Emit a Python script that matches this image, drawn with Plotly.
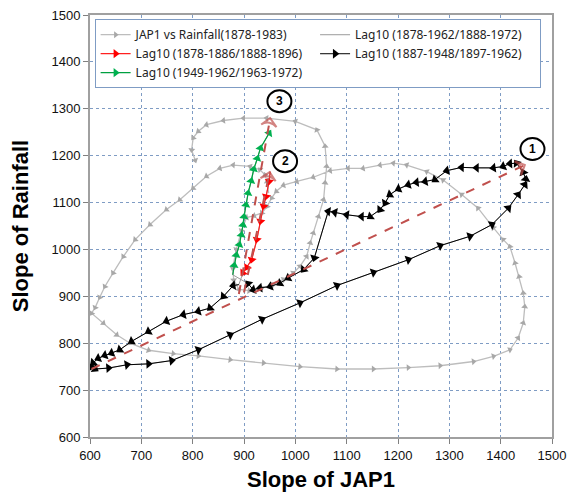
import plotly.graph_objects as go

# ---- data ----
jap1_x = [948, 945, 941, 931, 912, 879, 853, 827, 801, 775, 749, 717, 688, 665, 645, 629, 619, 610, 603,
          626, 652, 678, 714, 762, 811, 873, 938, 1009, 1081, 1152, 1220, 1282, 1347, 1386, 1418, 1434,
          1444, 1447, 1444, 1436, 1428, 1418, 1405, 1386, 1356, 1324, 1288, 1256, 1217, 1191, 1165, 1132,
          1103, 1068, 1035, 1003, 977, 963, 954, 945, 935, 920, 905, 895, 885, 878, 880, 890, 910, 935,
          957, 977, 996, 1009, 1022, 1029, 1035, 1045, 1055, 1058, 1061, 1058, 1042, 1000, 944, 899, 860,
          827, 811, 801, 798, 805]
jap1_y = [1120, 1145, 1159, 1170, 1177, 1180, 1173, 1156, 1131, 1106, 1085, 1053, 1021, 985, 950, 921, 898,
          876, 864, 843, 818, 800, 785, 778, 773, 765, 758, 750, 745, 745, 748, 752, 761, 772, 786, 811,
          843, 878, 907, 942, 971, 1006, 1021, 1046, 1088, 1117, 1148, 1166, 1180, 1184, 1180, 1173, 1173,
          1168, 1154, 1145, 1137, 1124, 1110, 1092, 1078, 1072, 1068, 1040, 1000, 960, 935, 915, 912, 918,
          925, 936, 950, 964, 985, 1014, 1035, 1070, 1106, 1142, 1177, 1220, 1255, 1273, 1280, 1280, 1275,
          1266, 1252, 1238, 1212, 1190]

red_x = [951, 949, 943, 938, 932, 925, 915, 906, 898]
red_y = [1166, 1145, 1113, 1092, 1060, 1021, 978, 962, 950]

black_x = [890, 879, 860, 834, 811, 782, 749, 714, 681, 658, 642, 629, 616, 606, 603, 610, 636, 672, 714,
           759, 811, 873, 935, 1009, 1081, 1152, 1220, 1282, 1340, 1383, 1415, 1434, 1447, 1449, 1444,
           1431, 1418, 1405, 1386, 1353, 1324, 1295, 1272, 1253, 1236, 1220, 1201, 1184, 1175, 1165, 1146,
           1129, 1100, 1077, 1064, 1037, 1016, 986, 970, 951, 931, 918, 908]
black_y = [925, 923, 900, 875, 868, 861, 847, 825, 804, 786, 779, 774, 768, 758, 750, 745, 747, 754, 756,
           763, 786, 818, 851, 886, 923, 951, 978, 1008, 1028, 1053, 1088, 1117, 1138, 1150, 1164, 1184,
           1183, 1177, 1174, 1174, 1175, 1168, 1149, 1145, 1143, 1138, 1129, 1117, 1099, 1085, 1070, 1070,
           1074, 1079, 1081, 982, 957, 939, 928, 921, 918, 914, 927]

green_x = [878, 881, 885, 891, 895, 898, 900, 904, 908, 914, 919, 926, 932, 949]
green_y = [946, 966, 988, 1010, 1031, 1052, 1070, 1095, 1120, 1146, 1171, 1194, 1216, 1248]

lag_all_x = red_x + black_x + green_x
lag_all_y = red_y + black_y + green_y

# dashed trend arrows: (tail, head)
arrow1_x = [603, 1447]
arrow1_y = [745, 1180]
arrow2_x = [900, 950]
arrow2_y = [908, 1165]
arrow3_x = [890, 951]
arrow3_y = [905, 1280]

labels = ["1", "2", "3"]
label_x = [1462, 980, 969]
label_y = [1214, 1188, 1316]

ticks = list(range(600, 1501, 100))

# ---- figure ----
fig = go.Figure()

fig.add_trace(go.Scatter(
    x=jap1_x, y=jap1_y, mode="lines+markers", name="JAP1 vs Rainfall(1878-1983)",
    line=dict(color="#BDBDBD", width=1.3),
    marker=dict(symbol="triangle-up", size=6, color="#A8A8A8", angleref="previous"),
))
fig.add_trace(go.Scatter(
    x=lag_all_x, y=lag_all_y, mode="lines", name="Lag10 (1878-1962/1888-1972)",
    line=dict(color="#9A9A9A", width=1),
))
fig.add_trace(go.Scatter(
    x=red_x, y=red_y, mode="lines+markers", name="Lag10 (1878-1886/1888-1896)",
    line=dict(color="#FF2020", width=1.2),
    marker=dict(symbol="triangle-up", size=8, color="#FF0000", angleref="previous"),
))
fig.add_trace(go.Scatter(
    x=black_x, y=black_y, mode="lines+markers", name="Lag10 (1887-1948/1897-1962)",
    line=dict(color="#000000", width=1),
    marker=dict(symbol="triangle-up", size=8.5, color="#000000", angleref="previous"),
))
fig.add_trace(go.Scatter(
    x=green_x, y=green_y, mode="lines+markers", name="Lag10 (1949-1962/1963-1972)",
    line=dict(color="#00A040", width=1.2),
    marker=dict(symbol="triangle-up", size=8, color="#00B050", angleref="previous"),
))

for ax_, ay_ in [(arrow1_x, arrow1_y), (arrow2_x, arrow2_y), (arrow3_x, arrow3_y)]:
    fig.add_trace(go.Scatter(
        x=ax_, y=ay_, mode="lines+markers", showlegend=False, hoverinfo="skip",
        line=dict(color="#C0504D", width=2, dash="dash"),
        marker=dict(symbol="arrow-wide-open", size=[0, 11], color="#C0504D",
                    line=dict(color="#C0504D", width=2), angleref="previous"),
    ))

for t, lx, ly in zip(labels, label_x, label_y):
    fig.add_shape(type="circle", xref="x", yref="y", xsizemode="pixel", ysizemode="pixel",
                  xanchor=lx, yanchor=ly, x0=-12, x1=12, y0=-11, y1=11,
                  line=dict(color="black", width=2), fillcolor="white")
    fig.add_annotation(x=lx, y=ly, text="<b>%s</b>" % t, showarrow=False,
                       font=dict(family="Liberation Sans", size=12, color="black"))

axis_common = dict(
    range=[600, 1500], tickvals=ticks, ticks="outside", ticklen=5, tickcolor="#808080",
    showgrid=True, gridcolor="#7F9CC4", griddash="dot", gridwidth=1,
    showline=True, linecolor="#A0A0A0", linewidth=2, mirror=True, zeroline=False,
    automargin=False, ticklabeloverflow="allow",
    tickfont=dict(family="Liberation Sans", size=13, color="#111111"),
)

fig.update_xaxes(**axis_common,
                 title=dict(text="<b>Slope of JAP1</b>", standoff=10,
                            font=dict(family="Liberation Sans", size=22, color="black")))
fig.update_yaxes(**axis_common,
                 title=dict(text="<b>Slope of Rainfall</b>", standoff=17,
                            font=dict(family="Liberation Sans", size=22, color="black")))

fig.update_layout(
    width=569, height=504,
    margin=dict(l=90, r=17, t=15, b=67, autoexpand=False),
    paper_bgcolor="white", plot_bgcolor="white",
    legend=dict(
        x=0.01, y=0.99, xanchor="left", yanchor="top",
        orientation="h", entrywidth=0.475, entrywidthmode="fraction",
        bgcolor="white", bordercolor="#7F9CC4", borderwidth=1,
        font=dict(family="Noto Sans", size=12, color="#222222"),
        itemwidth=30, tracegroupgap=0,
    ),
)

# remove the page's default 8px body margin so the 569x504 figure fills the window exactly
fig.write_html("out.html", config={"displayModeBar": False},
               post_script="document.body.style.margin='0px';")
